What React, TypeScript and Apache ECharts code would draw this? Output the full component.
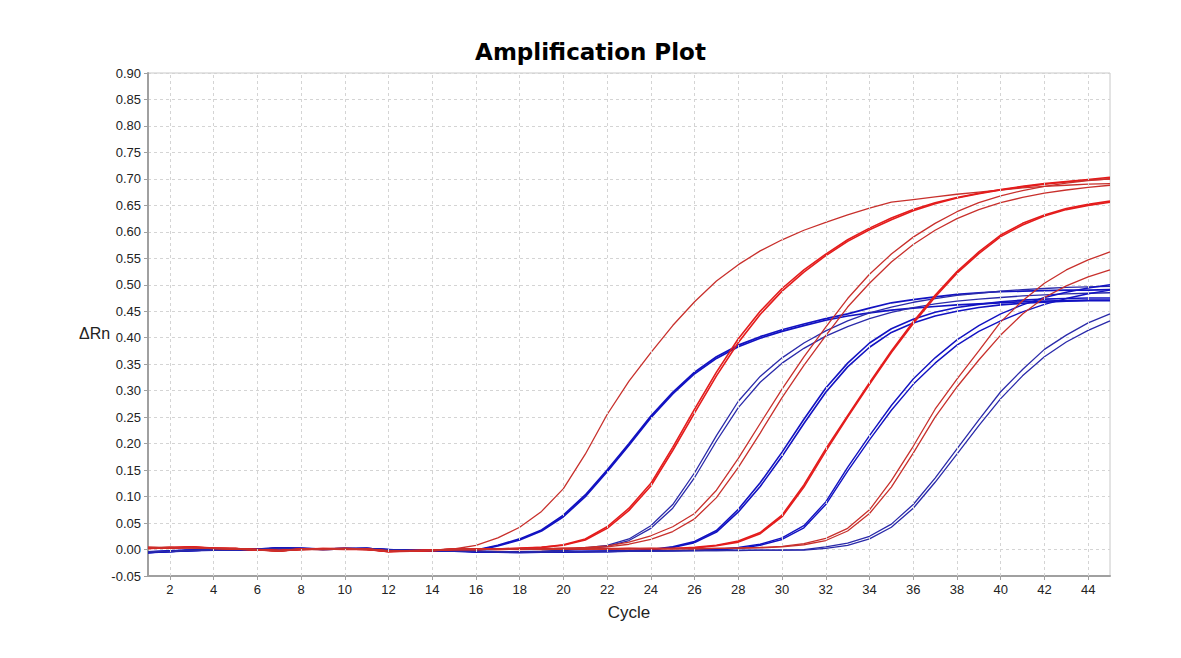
import React, { useEffect, useRef } from 'react';
import * as echarts from 'echarts';

const cycles = [1,2,3,4,5,6,7,8,9,10,11,12,13,14,15,16,17,18,19,20,21,22,23,24,25,26,27,28,29,30,31,32,33,34,35,36,37,38,39,40,41,42,43,44,45];
const xTickValues = [2,4,6,8,10,12,14,16,18,20,22,24,26,28,30,32,34,36,38,40,42,44];

// Blue curves (ΔRn per cycle)
const blue1a = [-0.006,-0.004,-0.002,-0.001,-0.001,0.001,0.003,0.002,0.001,0.002,0.002,-0.001,-0.002,-0.002,-0.002,
  -0.001,0.008,0.020,0.037,0.065,0.103,0.150,0.200,0.252,0.297,0.335,0.364,0.386,0.402,0.415,0.426,0.436,0.445,0.456,0.466,0.472,0.477,0.482,0.485,0.487,0.488,0.489,0.490,0.490,0.491];
const blue1b = [-0.005,-0.003,-0.001,0.000,-0.001,0.000,0.002,0.002,0.001,0.001,0.002,-0.001,-0.002,-0.003,-0.002,
  -0.002,0.007,0.018,0.035,0.062,0.100,0.147,0.197,0.249,0.294,0.332,0.361,0.383,0.399,0.412,0.423,0.433,0.441,0.447,0.452,0.456,0.459,0.462,0.464,0.466,0.468,0.469,0.470,0.471,0.471];
const blue2a = [-0.004,-0.003,-0.001,0.000,0.000,0.001,0.002,0.001,0.001,0.002,0.001,0.000,-0.002,-0.002,-0.003,
  -0.003,-0.004,-0.004,-0.003,-0.001,0.003,0.008,0.020,0.045,0.085,0.145,0.215,0.280,0.327,0.362,0.390,0.413,0.432,0.447,0.458,0.467,0.474,0.480,0.484,0.488,0.491,0.493,0.495,0.496,0.497];
const blue2b = [-0.005,-0.004,-0.002,-0.001,-0.001,0.000,0.003,0.001,0.000,0.001,0.001,-0.001,-0.001,-0.002,-0.003,
  -0.004,-0.005,-0.004,-0.004,-0.002,0.001,0.006,0.017,0.040,0.078,0.136,0.205,0.268,0.316,0.352,0.380,0.403,0.421,0.436,0.448,0.457,0.464,0.469,0.473,0.476,0.479,0.481,0.483,0.484,0.485];
const blue3a = [-0.006,-0.003,-0.002,0.000,0.000,0.001,0.003,0.002,0.001,0.001,0.002,0.000,-0.002,-0.001,-0.002,
  -0.004,-0.005,-0.005,-0.005,-0.004,-0.004,-0.003,-0.002,0.000,0.005,0.015,0.036,0.076,0.126,0.184,0.246,0.305,0.352,0.390,0.417,0.435,0.448,0.457,0.463,0.468,0.471,0.473,0.474,0.475,0.475];
const blue3b = [-0.005,-0.004,-0.001,-0.001,-0.001,0.000,0.002,0.001,0.001,0.002,0.001,-0.001,-0.002,-0.002,-0.003,
  -0.005,-0.005,-0.006,-0.005,-0.005,-0.004,-0.004,-0.003,-0.001,0.004,0.013,0.033,0.071,0.119,0.176,0.238,0.297,0.345,0.382,0.410,0.428,0.441,0.450,0.457,0.462,0.465,0.467,0.469,0.470,0.470];
const blue4a = [-0.004,-0.002,-0.001,0.000,-0.001,0.001,0.002,0.002,0.000,0.001,0.002,0.000,-0.001,-0.002,-0.002,
  -0.003,-0.004,-0.004,-0.004,-0.004,-0.003,-0.003,-0.003,-0.002,-0.002,-0.001,0.000,0.004,0.010,0.022,0.045,0.090,0.155,0.215,0.272,0.322,0.362,0.396,0.423,0.445,0.462,0.476,0.486,0.494,0.500];
const blue4b = [-0.006,-0.003,-0.002,-0.001,0.000,0.000,0.003,0.001,0.001,0.001,0.001,-0.001,-0.002,-0.003,-0.002,
  -0.004,-0.005,-0.005,-0.004,-0.005,-0.004,-0.004,-0.003,-0.003,-0.002,-0.002,-0.001,0.002,0.008,0.019,0.041,0.085,0.148,0.207,0.263,0.312,0.352,0.386,0.412,0.432,0.449,0.463,0.474,0.483,0.490];
const blue5a = [-0.005,-0.003,-0.001,0.000,-0.001,0.001,0.002,0.001,0.001,0.002,0.002,0.000,-0.001,-0.002,-0.003,
  -0.003,-0.004,-0.005,-0.004,-0.004,-0.004,-0.003,-0.003,-0.003,-0.002,-0.002,-0.002,-0.001,-0.001,-0.001,0.000,0.005,0.012,0.025,0.048,0.085,0.135,0.190,0.245,0.298,0.340,0.378,0.405,0.428,0.445];
const blue5b = [-0.004,-0.004,-0.002,-0.001,0.000,0.000,0.002,0.002,0.000,0.001,0.001,-0.001,-0.002,-0.002,-0.002,
  -0.004,-0.005,-0.005,-0.005,-0.004,-0.004,-0.004,-0.003,-0.003,-0.003,-0.002,-0.002,-0.002,-0.001,-0.001,-0.001,0.002,0.008,0.020,0.042,0.078,0.127,0.180,0.234,0.285,0.328,0.364,0.392,0.414,0.432];

// Red curves (ΔRn per cycle)
const redA = [0.003,0.004,0.004,0.002,0.001,-0.001,-0.002,0.000,0.001,0.001,0.000,-0.003,-0.002,-0.001,0.001,
  0.008,0.022,0.042,0.072,0.115,0.180,0.255,0.318,0.372,0.423,0.468,0.507,0.538,0.564,0.585,0.603,0.618,0.632,0.645,0.656,0.661,0.666,0.671,0.675,0.679,0.683,0.686,0.688,0.690,0.691];
const redB1 = [0.004,0.003,0.005,0.003,0.002,0.000,-0.003,0.001,0.002,0.002,0.001,-0.004,-0.003,-0.001,0.000,
  0.000,0.001,0.002,0.004,0.009,0.020,0.043,0.078,0.125,0.193,0.265,0.335,0.398,0.450,0.493,0.528,0.558,0.585,0.607,0.626,0.642,0.655,0.665,0.673,0.680,0.686,0.691,0.695,0.699,0.703];
const redB2 = [0.002,0.003,0.004,0.002,0.002,-0.001,-0.002,0.000,0.001,0.000,0.000,-0.003,-0.003,-0.002,0.000,
  0.001,0.001,0.003,0.004,0.008,0.018,0.040,0.074,0.120,0.187,0.258,0.328,0.391,0.444,0.488,0.524,0.555,0.582,0.604,0.623,0.640,0.653,0.664,0.672,0.679,0.685,0.690,0.694,0.698,0.700];
const redC1 = [0.003,0.004,0.003,0.003,0.001,0.000,-0.002,0.001,0.000,0.001,0.001,-0.002,-0.003,-0.001,0.001,
  0.001,0.001,0.001,0.002,0.002,0.004,0.007,0.014,0.026,0.043,0.068,0.112,0.172,0.238,0.303,0.364,0.420,0.474,0.520,0.558,0.590,0.616,0.638,0.655,0.668,0.678,0.686,0.692,0.697,0.700];
const redC2 = [0.004,0.003,0.004,0.002,0.001,-0.001,-0.003,0.000,0.001,0.002,0.000,-0.004,-0.002,-0.001,0.000,
  0.000,0.001,0.001,0.001,0.002,0.003,0.005,0.010,0.019,0.034,0.058,0.098,0.155,0.220,0.287,0.348,0.404,0.458,0.503,0.543,0.576,0.603,0.625,0.642,0.655,0.665,0.673,0.679,0.684,0.688];
const redD1 = [0.003,0.003,0.005,0.002,0.002,0.000,-0.002,0.001,0.001,0.001,0.001,-0.003,-0.003,-0.002,0.001,
  0.001,0.000,0.001,0.001,0.002,0.001,0.002,0.002,0.001,0.002,0.004,0.008,0.016,0.032,0.065,0.122,0.190,0.253,0.315,0.375,0.430,0.480,0.525,0.562,0.594,0.616,0.632,0.644,0.652,0.658];
const redD2 = [0.002,0.004,0.004,0.003,0.001,-0.001,-0.002,0.000,0.002,0.001,0.000,-0.004,-0.002,-0.001,0.000,
  0.000,0.001,0.000,0.001,0.001,0.002,0.001,0.002,0.002,0.002,0.003,0.007,0.014,0.030,0.062,0.118,0.186,0.250,0.312,0.372,0.427,0.477,0.522,0.559,0.591,0.613,0.630,0.642,0.650,0.656];
const redE1 = [0.003,0.003,0.004,0.002,0.001,0.000,-0.003,0.001,0.001,0.002,0.001,-0.003,-0.003,-0.001,0.001,
  0.001,0.000,0.001,0.001,0.002,0.001,0.001,0.002,0.002,0.001,0.002,0.002,0.003,0.004,0.006,0.011,0.021,0.040,0.075,0.130,0.195,0.265,0.322,0.375,0.430,0.470,0.503,0.528,0.547,0.562];
const redE2 = [0.004,0.004,0.003,0.002,0.002,-0.001,-0.002,0.000,0.000,0.001,0.000,-0.003,-0.002,-0.002,0.000,
  0.000,0.001,0.001,0.000,0.001,0.002,0.001,0.001,0.002,0.002,0.001,0.002,0.002,0.003,0.005,0.009,0.017,0.035,0.068,0.118,0.182,0.250,0.307,0.358,0.405,0.445,0.476,0.498,0.515,0.528];

const BLUE_STRONG = '#1212c2';
const BLUE_SOFT = '#2a2aaa';
const RED_STRONG = '#e41c1c';
const RED_SOFT = '#c8302c';

const blueSeries: [string, number[], string, number][] = [
  ['Blue 1a', blue1a, BLUE_STRONG, 1.7],
  ['Blue 1b', blue1b, BLUE_STRONG, 1.7],
  ['Blue 2a', blue2a, BLUE_SOFT, 1.3],
  ['Blue 2b', blue2b, BLUE_SOFT, 1.3],
  ['Blue 3a', blue3a, BLUE_STRONG, 1.6],
  ['Blue 3b', blue3b, BLUE_STRONG, 1.6],
  ['Blue 4a', blue4a, BLUE_STRONG, 1.4],
  ['Blue 4b', blue4b, BLUE_STRONG, 1.4],
  ['Blue 5a', blue5a, BLUE_SOFT, 1.3],
  ['Blue 5b', blue5b, BLUE_SOFT, 1.3],
];
const redSeries: [string, number[], string, number][] = [
  ['Red A', redA, RED_SOFT, 1.3],
  ['Red B1', redB1, RED_STRONG, 1.6],
  ['Red B2', redB2, RED_STRONG, 1.6],
  ['Red C1', redC1, RED_SOFT, 1.3],
  ['Red C2', redC2, RED_SOFT, 1.3],
  ['Red D1', redD1, RED_STRONG, 1.6],
  ['Red D2', redD2, RED_STRONG, 1.6],
  ['Red E1', redE1, RED_SOFT, 1.3],
  ['Red E2', redE2, RED_SOFT, 1.3],
];

export default function App() {
  const ref = useRef<HTMLDivElement>(null);
  useEffect(() => {
    if (!ref.current) return;
    const chart = echarts.init(ref.current, null, { renderer: 'svg' });
    const mkLine = ([name, vals, color, width]: [string, number[], string, number], z: number) => ({
      name,
      type: 'line',
      data: vals.map((v, i) => [cycles[i], v]),
      showSymbol: false,
      symbol: 'none',
      smooth: false,
      z,
      lineStyle: { color, width },
      itemStyle: { color },
      emphasis: { disabled: true },
    });
    const option: any = {
      animation: false,
      backgroundColor: '#ffffff',
      title: {
        text: 'Amplification Plot',
        left: 'center',
        top: 35,
        textStyle: { fontFamily: 'DejaVu Sans', fontWeight: 'bold', fontSize: 23, color: '#000' },
      },
      grid: {
        left: 148, right: 71, top: 73, bottom: 82,
        show: true, borderColor: '#c8c8c8', borderWidth: 1, backgroundColor: 'transparent',
      },
      graphic: [
        {
          type: 'text', left: 79, top: 325,
          style: { text: 'ΔRn', fontSize: 16, fontFamily: 'Liberation Sans', fill: '#222' },
        },
      ],
      xAxis: {
        type: 'value', min: 1, max: 45,
        name: 'Cycle', nameLocation: 'middle', nameGap: 28,
        nameTextStyle: { fontSize: 17, fontFamily: 'Liberation Sans', color: '#222' },
        axisLine: { show: true, onZero: false, lineStyle: { color: '#a0a0a0', width: 2 } },
        axisTick: { show: true, length: 4, customValues: xTickValues, lineStyle: { color: '#a0a0a0' } },
        axisLabel: { customValues: xTickValues, fontSize: 13, fontFamily: 'Liberation Sans', color: '#222', margin: 7 },
        splitLine: { show: false },
      },
      yAxis: {
        type: 'value', min: -0.05, max: 0.9, interval: 0.05,
        axisLine: { show: true, lineStyle: { color: '#a0a0a0', width: 2 } },
        axisTick: { show: true, length: 4, lineStyle: { color: '#a0a0a0' } },
        axisLabel: {
          fontSize: 13, fontFamily: 'Liberation Sans', color: '#222', margin: 7,
          formatter: (v: number) => v.toFixed(2),
        },
        splitLine: { show: true, lineStyle: { color: '#d4d4d4', type: [3, 3], width: 1 } },
      },
      series: [
        {
          name: 'grid-x', type: 'line', data: [], z: 1, silent: true,
          markLine: {
            silent: true, symbol: ['none', 'none'], label: { show: false },
            lineStyle: { color: '#d4d4d4', type: [3, 3], width: 1 },
            data: xTickValues.map((v) => ({ xAxis: v })),
          },
        },
        ...blueSeries.map((s) => mkLine(s, 2)),
        ...redSeries.map((s) => mkLine(s, 3)),
      ],
    };
    chart.setOption(option);
    return () => chart.dispose();
  }, []);
  return <div ref={ref} style={{ position: 'absolute', left: 0, top: 0, width: 1181, height: 658 }} />;
}
